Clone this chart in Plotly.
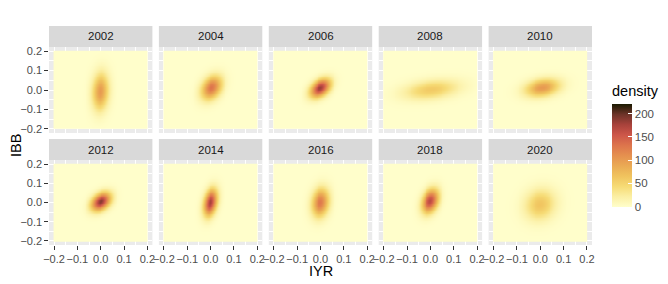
import numpy as np
import plotly.graph_objects as go
from plotly.subplots import make_subplots

# ---- data (bivariate-normal density parameters read from each facet) ----
years = ["2002", "2004", "2006", "2008", "2010", "2012", "2014", "2016", "2018", "2020"]
mean_iyr = [0.000, 0.005, 0.000, 0.005, 0.010, 0.002, 0.000, 0.000, 0.000, 0.000]
mean_ibb = [-0.010, 0.010, 0.008, 0.000, 0.010, 0.005, 0.000, 0.000, 0.008, -0.010]
sd_iyr = [0.024, 0.030, 0.029, 0.080, 0.050, 0.028, 0.020, 0.025, 0.024, 0.045]
sd_ibb = [0.065, 0.042, 0.033, 0.035, 0.032, 0.032, 0.047, 0.050, 0.042, 0.055]
corr = [0.10, 0.30, 0.40, 0.30, 0.25, 0.35, 0.30, 0.15, 0.30, 0.10]
tick_vals = [-0.2, -0.1, 0.0, 0.1, 0.2]
density_max = 222

grid = np.linspace(-0.2, 0.2, 100)

def density(mx, my, sx, sy, r):
    X, Y = np.meshgrid(grid, grid)
    zx = (X - mx) / sx
    zy = (Y - my) / sy
    q = (zx**2 - 2 * r * zx * zy + zy**2) / (1 - r**2)
    return np.exp(-q / 2) / (2 * np.pi * sx * sy * np.sqrt(1 - r**2))

lajolla = [
    [0.0, "#FFFECB"], [0.1, "#FBEFA4"], [0.2, "#F6DB75"], [0.3, "#F0C35E"],
    [0.4, "#EAAA54"], [0.5, "#E5904F"], [0.6, "#DD744C"], [0.7, "#CD5649"],
    [0.8, "#A8423B"], [0.9, "#6C3328"], [1.0, "#1A1A01"],
]

# page body has an 8px margin; build the figure so it lands on the 668x284 view
OX, OY = 8, 8
W, H = 668 - OX, 284 - OY
L, R, T, B = 49 - OX, 76, 26 - OY, 39
pw, ph = W - L - R, H - T - B

def fx(px):
    return (px - OX - L) / pw

def fy(py):
    return (ph - (py - OY - T)) / ph

panel_w = 103.4
gap = 6.5
row_panels = [(47, 133), (160, 245)]
row_strips = [(26, 47), (139, 160)]

fig = make_subplots(rows=2, cols=5)

font = "Liberation Sans, Arial, sans-serif"
shapes = []
annotations = []
for i, yr in enumerate(years):
    r = i // 5
    c = i % 5
    z = density(mean_iyr[i], mean_ibb[i], sd_iyr[i], sd_ibb[i], corr[i])
    fig.add_trace(go.Heatmap(x=grid, y=grid, z=z, coloraxis="coloraxis",
                             hoverinfo="skip"), row=r + 1, col=c + 1)
    x0 = 49 + c * (panel_w + gap)
    x1 = x0 + panel_w
    idx = i + 1
    xa = "xaxis" if idx == 1 else f"xaxis{idx}"
    ya = "yaxis" if idx == 1 else f"yaxis{idx}"
    p0, p1 = row_panels[r]
    fig.layout[xa].domain = [fx(x0), fx(x1)]
    fig.layout[ya].domain = [fy(p1), fy(p0)]
    s0, s1 = row_strips[r]
    shapes.append(dict(type="rect", xref="paper", yref="paper",
                       x0=fx(x0), x1=fx(x1), y0=fy(s1), y1=fy(s0),
                       fillcolor="#D9D9D9", line=dict(width=0), layer="below"))
    annotations.append(dict(text=yr, xref="paper", yref="paper",
                            x=fx((x0 + x1) / 2), y=fy((s0 + s1) / 2),
                            showarrow=False, xanchor="center", yanchor="middle",
                            font=dict(size=11.5, color="#1A1A1A", family=font)))

axis_common = dict(range=[-0.2215, 0.2215], tickmode="array", tickvals=tick_vals,
                   tickformat=".1f", showgrid=True, gridcolor="white", gridwidth=1.1,
                   zeroline=False, tickangle=0,
                   tickfont=dict(size=11, color="#4D4D4D", family=font),
                   minor=dict(tickmode="array", tickvals=[-0.15, -0.05, 0.05, 0.15],
                              showgrid=True, gridcolor="white", gridwidth=0.5),
                   showline=False, automargin=False)
tick_on = dict(ticks="outside", ticklen=3.7, tickwidth=1, tickcolor="#333333")
tick_off = dict(ticks="")

for i in range(10):
    r = i // 5
    c = i % 5
    xt = tick_on if r == 1 else tick_off
    yt = tick_on if c == 0 else tick_off
    fig.update_xaxes(**axis_common, **xt, showticklabels=(r == 1), row=r + 1, col=c + 1)
    fig.update_yaxes(**axis_common, **yt, showticklabels=(c == 0), row=r + 1, col=c + 1)

annotations.append(dict(text="IYR", xref="paper", yref="paper", x=fx(49 + 543 / 2), y=fy(271),
                        showarrow=False, xanchor="center", yanchor="middle",
                        font=dict(size=14.5, color="#000000", family=font)))
annotations.append(dict(text="IBB", xref="paper", yref="paper", x=fx(16), y=fy(146),
                        showarrow=False, xanchor="center", yanchor="middle", textangle=-90,
                        font=dict(size=14.5, color="#000000", family=font)))

fig.update_layout(
    width=W, height=H,
    margin=dict(l=L, r=R, t=T, b=B, autoexpand=False),
    paper_bgcolor="white",
    plot_bgcolor="#EBEBEB",
    shapes=shapes,
    annotations=annotations,
    font=dict(family=font),
    coloraxis=dict(
        colorscale=lajolla, cmin=0, cmax=density_max,
        colorbar=dict(
            title=dict(text="density", side="top", font=dict(size=14.5, color="#000000", family=font)),
            x=fx(612), xanchor="left", xref="paper",
            y=fy(206.5), yanchor="bottom", yref="paper",
            len=124, lenmode="pixels", thickness=20, thicknessmode="pixels",
            outlinewidth=0, tickvals=[0, 50, 100, 150, 200],
            ticks="inside", ticklen=4, tickcolor="white", tickwidth=1,
            tickfont=dict(size=11.5, color="#4D4D4D", family=font),
            xpad=0, ypad=0,
        ),
    ),
    showlegend=False,
)

fig.write_html("out.html")
